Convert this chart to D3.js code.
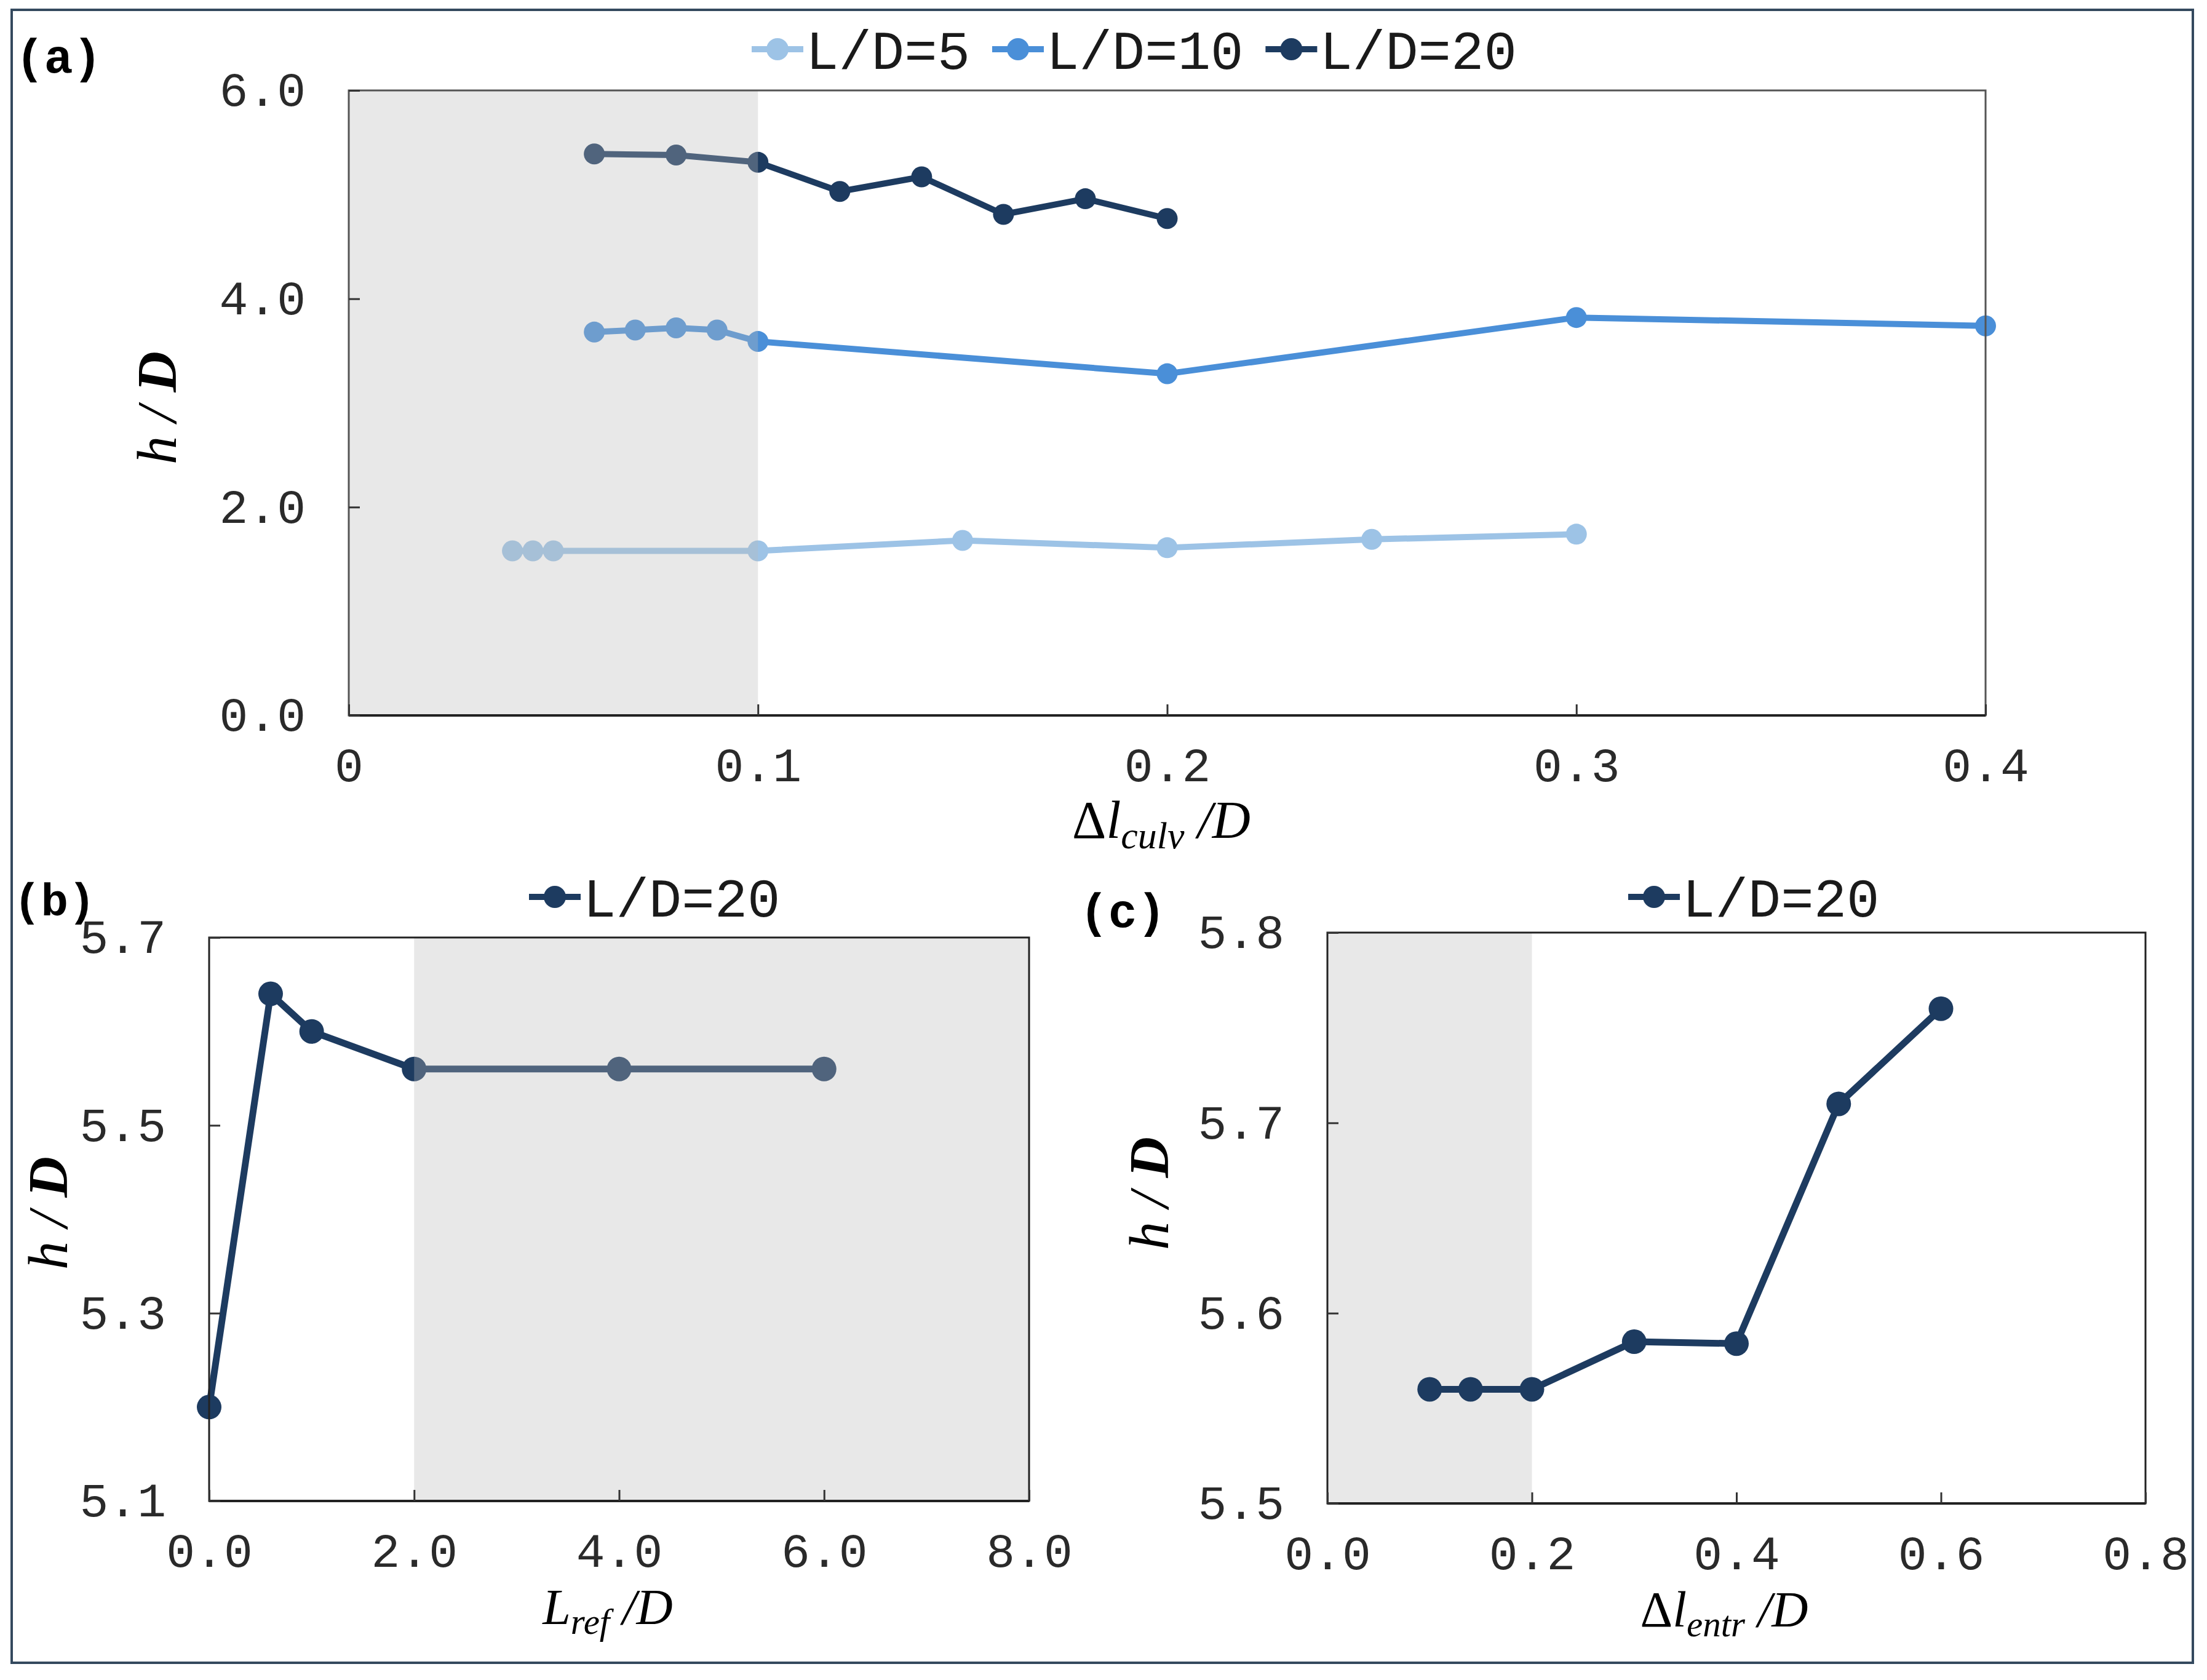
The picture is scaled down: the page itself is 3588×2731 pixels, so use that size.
<!DOCTYPE html>
<html>
<head>
<meta charset="utf-8">
<script src="https://cdn.jsdelivr.net/npm/d3@7"></script>
<style>
  body { margin: 0; background: #fff; }
  svg { display: block; }
</style>
</head>
<body>
<div id="chart"></div>
<script>
// panel (a): h/D against culvert spacing, three L/D series
var xCulv5 = [0.04, 0.045, 0.05, 0.1, 0.15, 0.2, 0.25, 0.3];
var hCulv5 = [1.58, 1.58, 1.58, 1.58, 1.68, 1.61, 1.69, 1.74];
var xCulv10 = [0.06, 0.07, 0.08, 0.09, 0.1, 0.2, 0.3, 0.4];
var hCulv10 = [3.68, 3.70, 3.72, 3.70, 3.59, 3.28, 3.82, 3.74];
var xCulv20 = [0.06, 0.08, 0.1, 0.12, 0.14, 0.16, 0.18, 0.2];
var hCulv20 = [5.39, 5.38, 5.31, 5.03, 5.17, 4.81, 4.96, 4.77];

// panel (b): h/D against L_ref/D
var xRef = [0, 0.6, 1.0, 2.0, 4.0, 6.0];
var hRef = [5.20, 5.64, 5.60, 5.56, 5.56, 5.56];

// panel (c): h/D against entrance spacing
var xEntr = [0.1, 0.14, 0.2, 0.3, 0.4, 0.5, 0.6];
var hEntr = [5.56, 5.56, 5.56, 5.585, 5.584, 5.71, 5.76];

var seriesNames = ["L/D=5", "L/D=10", "L/D=20"];
var seriesColors = ["#9dc3e6", "#4a8fd8", "#1d3b60"];

var ticksA_x = [0, 0.1, 0.2, 0.3, 0.4];
var ticksA_y = [0, 2, 4, 6];
var ticksB_x = [0, 2, 4, 6, 8];
var ticksB_y = [5.1, 5.3, 5.5, 5.7];
var ticksC_x = [0, 0.2, 0.4, 0.6, 0.8];
var ticksC_y = [5.5, 5.6, 5.7, 5.8];

var W = 3588, H = 2731;
var MONO = "'Liberation Mono', 'DejaVu Sans Mono', monospace";
var SERIF = "'Liberation Serif', 'DejaVu Serif', serif";

var svg = d3.select("#chart").append("svg")
    .attr("width", W)
    .attr("height", H);

svg.append("rect").attr("width", W).attr("height", H).attr("fill", "#fff");

// outer frame
svg.append("rect")
    .attr("x", 19).attr("y", 16)
    .attr("width", 3546).attr("height", 2687)
    .attr("fill", "none")
    .attr("stroke", "#34495e")
    .attr("stroke-width", 4);

function zip(xs, ys) {
    return xs.map(function (x, i) { return [x, ys[i]]; });
}

function drawPanel(p) {
    var x = d3.scaleLinear().domain(p.xDomain).range([p.left, p.right]);
    var y = d3.scaleLinear().domain(p.yDomain).range([p.bottom, p.top]);
    var g = svg.append("g");

    var shade = function () {
        g.append("rect")
            .attr("x", x(p.shade[0]))
            .attr("y", p.top)
            .attr("width", x(p.shade[1]) - x(p.shade[0]))
            .attr("height", p.bottom - p.top)
            .attr("fill", p.shadeOnTop ? "#b8b8b8" : "#e8e8e8")
            .attr("fill-opacity", p.shadeOnTop ? 0.33 : 1);
    };

    if (!p.shadeOnTop) shade();

    var line = d3.line()
        .x(function (d) { return x(d[0]); })
        .y(function (d) { return y(d[1]); });

    p.series.forEach(function (s) {
        var pts = zip(s.x, s.y);
        g.append("path")
            .attr("d", line(pts))
            .attr("fill", "none")
            .attr("stroke", s.color)
            .attr("stroke-width", p.lineWidth)
            .attr("stroke-linejoin", "round");
        g.selectAll(null)
            .data(pts)
            .enter()
            .append("circle")
            .attr("cx", function (d) { return x(d[0]); })
            .attr("cy", function (d) { return y(d[1]); })
            .attr("r", p.radius)
            .attr("fill", s.color);
    });

    if (p.shadeOnTop) shade();

    // plot box
    g.append("rect")
        .attr("x", p.left).attr("y", p.top)
        .attr("width", p.right - p.left).attr("height", p.bottom - p.top)
        .attr("fill", "none")
        .attr("stroke", p.boxColor)
        .attr("stroke-width", 3);
    g.append("line")
        .attr("x1", p.left).attr("x2", p.right)
        .attr("y1", p.bottom).attr("y2", p.bottom)
        .attr("stroke", "#222")
        .attr("stroke-width", 4);

    var xAxis = d3.axisBottom(x)
        .tickValues(p.xTicks)
        .tickFormat(p.xFormat)
        .tickSizeInner(-18)
        .tickSizeOuter(0)
        .tickPadding(52);
    var yAxis = d3.axisLeft(y)
        .tickValues(p.yTicks)
        .tickFormat(p.yFormat)
        .tickSizeInner(-18)
        .tickSizeOuter(0)
        .tickPadding(70);

    var ax = g.append("g").attr("transform", "translate(0," + p.bottom + ")").call(xAxis);
    var ay = g.append("g").attr("transform", "translate(" + p.left + ",0)").call(yAxis);
    [ax, ay].forEach(function (a) {
        a.select(".domain").remove();
        a.selectAll(".tick line").attr("stroke", "#333").attr("stroke-width", 3);
        a.selectAll(".tick text")
            .attr("fill", "#2a2a2a")
            .style("font-family", MONO)
            .style("font-size", "78px");
    });

    // legend
    var lx = p.legendX;
    p.series.forEach(function (s) {
        g.append("line")
            .attr("x1", lx).attr("x2", lx + 84)
            .attr("y1", p.legendY).attr("y2", p.legendY)
            .attr("stroke", s.color)
            .attr("stroke-width", 10);
        g.append("circle")
            .attr("cx", lx + 42).attr("cy", p.legendY)
            .attr("r", 18)
            .attr("fill", s.color);
        g.append("text")
            .attr("x", lx + 88)
            .attr("y", p.legendY)
            .attr("dy", "0.36em")
            .attr("fill", "#1a1a1a")
            .style("font-family", MONO)
            .style("font-size", "89px")
            .text(s.name);
        lx += 88 + s.name.length * 0.6 * 89 + 36;
    });

    // panel letter
    g.append("text")
        .attr("x", p.tagX).attr("y", p.tagY)
        .attr("fill", "#000")
        .style("font-family", MONO)
        .style("font-weight", "bold")
        .style("font-size", p.tagSize + "px")
        .text(p.tag);

    // x title
    var xt = g.append("text")
        .attr("x", p.xTitle.x).attr("y", p.xTitle.y)
        .attr("text-anchor", "middle")
        .attr("fill", "#000")
        .style("font-family", SERIF)
        .style("font-size", p.xTitle.size + "px");
    if (p.xTitle.pre) xt.append("tspan").text(p.xTitle.pre);
    xt.append("tspan").style("font-style", "italic").text(p.xTitle.main);
    xt.append("tspan").style("font-style", "italic")
        .style("font-size", (p.xTitle.size * 0.72) + "px")
        .attr("dy", p.xTitle.size * 0.2)
        .text(p.xTitle.sub);
    xt.append("tspan").style("font-style", "italic")
        .attr("dy", -p.xTitle.size * 0.2)
        .text(" /D");

    // y title
    var yt = g.append("text")
        .attr("transform", "translate(" + p.yTitle.x + "," + p.yTitle.y + ") rotate(-90)")
        .attr("text-anchor", "middle")
        .attr("fill", "#000")
        .style("font-family", SERIF)
        .style("font-style", "italic")
        .style("font-size", "92px");
    yt.append("tspan").text("h / ");
    yt.append("tspan").style("font-weight", "bold").text("D");
}

var fmt1 = d3.format(".1f");

drawPanel({
    tag: "(a)", tagX: 25, tagY: 118, tagSize: 78,
    left: 567, right: 3228, top: 147, bottom: 1163,
    xDomain: [0, 0.4], yDomain: [0, 6],
    xTicks: ticksA_x, yTicks: ticksA_y,
    xFormat: function (d) { return d === 0 ? "0" : fmt1(d); },
    yFormat: fmt1,
    shade: [0, 0.1], shadeOnTop: true,
    boxColor: "#555",
    lineWidth: 10, radius: 17,
    series: [
        { name: seriesNames[0], color: seriesColors[0], x: xCulv5, y: hCulv5 },
        { name: seriesNames[1], color: seriesColors[1], x: xCulv10, y: hCulv10 },
        { name: seriesNames[2], color: seriesColors[2], x: xCulv20, y: hCulv20 }
    ],
    legendX: 1222, legendY: 80,
    xTitle: { x: 1888, y: 1362, size: 86, pre: "\u0394", main: "l", sub: "culv" },
    yTitle: { x: 286, y: 663 }
});

drawPanel({
    tag: "(b)", tagX: 22, tagY: 1488, tagSize: 74,
    left: 340, right: 1673, top: 1524, bottom: 2440,
    xDomain: [0, 8], yDomain: [5.1, 5.7],
    xTicks: ticksB_x, yTicks: ticksB_y,
    xFormat: fmt1, yFormat: fmt1,
    shade: [2, 8], shadeOnTop: true,
    boxColor: "#222",
    lineWidth: 11, radius: 20,
    series: [
        { name: seriesNames[2], color: seriesColors[2], x: xRef, y: hRef }
    ],
    legendX: 860, legendY: 1458,
    xTitle: { x: 988, y: 2640, size: 82, pre: "", main: "L", sub: "ref" },
    yTitle: { x: 109, y: 1972 }
});

drawPanel({
    tag: "(c)", tagX: 1755, tagY: 1507, tagSize: 78,
    left: 2158, right: 3488, top: 1516, bottom: 2444,
    xDomain: [0, 0.8], yDomain: [5.5, 5.8],
    xTicks: ticksC_x, yTicks: ticksC_y,
    xFormat: fmt1, yFormat: fmt1,
    shade: [0, 0.2], shadeOnTop: false,
    boxColor: "#222",
    lineWidth: 11, radius: 20,
    series: [
        { name: seriesNames[2], color: seriesColors[2], x: xEntr, y: hEntr }
    ],
    legendX: 2647, legendY: 1458,
    xTitle: { x: 2803, y: 2644, size: 82, pre: "\u0394", main: "l", sub: "entr" },
    yTitle: { x: 1899, y: 1940 }
});
</script>
</body>
</html>
